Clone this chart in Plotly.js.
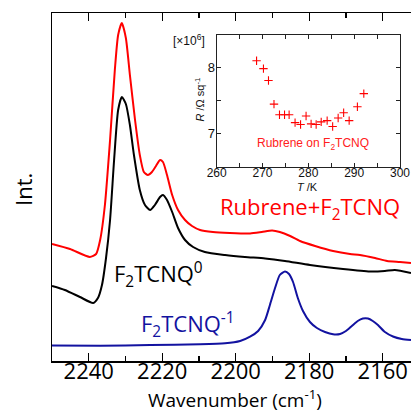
<!DOCTYPE html>
<html>
<head>
<meta charset="utf-8">
<script src="https://cdn.plot.ly/plotly-3.0.1.min.js"></script>
<style>html,body{margin:0;padding:0;background:#fff;}#chart{width:411px;height:411px;}</style>
</head>
<body>
<div id="chart"></div>
<script>
// Main spectra (wavenumber in cm^-1, intensity in arbitrary units)
const redWn = [2250,2245.1,2239.7,2238.0,2236.9,2235.6,2234.2,2232.9,2232.0,2231.0,2229.9,2228.8,2227.4,2226.1,2225.0,2223.9,2222.8,2221.7,2220.6,2219.8,2218.7,2217.3,2215.7,2213.8,2211.9,2209.7,2206.2,2201.6,2196.1,2192.9,2190.1,2188.0,2185.2,2182.5,2178.4,2173.5,2168.9,2166.2,2162.1,2158.8,2155.3,2152.3];
const redInt = [117,112,104,107,121,156,221,291,326,338,323,286,241,206,189,186,189,195,201,199,186,166,151,141,135,131,129,128,127.5,129,130.5,129,125,120,115,110,107,106,103,100,99,98];

const blackWn = [2250,2246.5,2242.4,2238.8,2237.5,2236.4,2235.3,2234.2,2233.1,2232.0,2231.0,2229.9,2228.8,2227.7,2226.1,2224.7,2223.3,2222.0,2220.6,2219.8,2218.7,2217.3,2215.7,2213.8,2211.6,2208.4,2202.9,2197.5,2192.0,2186.6,2179.8,2170.8,2163.5,2159.4,2156.7,2152.3];
const blackInt = [75,71,64,58,63,76,103,141,201,251,264,257,236,206,171,156,151,156,164,166,161,149,133,121,114,109,106,104,102.5,100,96,92,89.5,90,91,88];

const blueWn = [2250,2236.9,2223.3,2209.7,2202.9,2198.8,2196.1,2193.9,2192.0,2190.7,2189.3,2188.0,2186.6,2185.5,2184.4,2183.1,2181.7,2179.8,2177.9,2175.7,2173.5,2171.6,2170.0,2168.4,2166.8,2165.4,2164.0,2162.7,2161.3,2159.4,2157.2,2154.8,2152.3];
const blueInt = [15.5,15.3,16,16.7,17.7,20,24.3,30,41,56,73,86,89.5,87,79,63,50,39,33,29,26.7,27,30,35,40,42.5,42.5,40,36,29,24.5,22,21];

// Inset: sheet resistance vs temperature
const tempK = [268.7,270.2,271.3,272.5,273.7,274.8,275.8,277.1,278.3,279.5,280.6,281.7,282.8,284.1,285.3,286.5,287.7,288.9,290.7,292.1];
const resist = [8.11,7.99,7.81,7.45,7.29,7.29,7.29,7.17,7.14,7.27,7.15,7.14,7.18,7.20,7.11,7.24,7.32,7.20,7.41,7.61];

const xTicks = [2240,2220,2200,2180,2160];
const insetXTicks = [260,270,280,290,300];
const insetYTicks = [7,8];

const mainFont = 'Open Sans, sans-serif';
const insetFont = 'Liberation Sans, Arial, sans-serif';
const blueCol = '#1212a0';

const traces = [
  {x: redWn, y: redInt, mode:'lines', line:{color:'#ff0000', width:2, shape:'spline', smoothing:0.6}, xaxis:'x', yaxis:'y', hoverinfo:'none'},
  {x: blackWn, y: blackInt, mode:'lines', line:{color:'#000000', width:2, shape:'spline', smoothing:0.6}, xaxis:'x', yaxis:'y', hoverinfo:'none'},
  {x: blueWn, y: blueInt, mode:'lines', line:{color:blueCol, width:2, shape:'spline', smoothing:0.6}, xaxis:'x', yaxis:'y', hoverinfo:'none'},
  {x: tempK, y: resist, mode:'markers', marker:{symbol:'cross-thin', size:6, color:'#ff0000', line:{color:'#ff0000', width:1.1}}, xaxis:'x2', yaxis:'y2', hoverinfo:'none'}
];

const layout = {
  width:411, height:411,
  margin:{l:52, r:0, t:13, b:50},
  paper_bgcolor:'#fff', plot_bgcolor:'rgba(0,0,0,0)',
  showlegend:false,
  xaxis:{
    range:[2250,2152.3], domain:[0,1],
    tickvals:xTicks, ticktext:xTicks.map(String),
    ticks:'inside', ticklen:8, tickwidth:1.3, tickcolor:'#000',
    minor:{ticks:'inside', ticklen:5, dtick:10, tick0:2150, tickwidth:1.3, tickcolor:'#000', showgrid:false},
    showline:true, linecolor:'#000', linewidth:1.5, mirror:'ticks',
    showgrid:false, zeroline:false, ticklabelstandoff:-10,
    tickfont:{family:mainFont, size:22, color:'#000'}
  },
  yaxis:{
    range:[0,348], domain:[0,1],
    showline:true, linecolor:'#000', linewidth:1.5,
    ticks:'', showticklabels:false, showgrid:false, zeroline:false
  },
  xaxis2:{
    anchor:'y2', domain:[0.4588,0.9694], range:[260,300],
    tickvals:insetXTicks, ticktext:insetXTicks.map(String),
    ticks:'inside', ticklen:4, tickwidth:1, tickcolor:'#222',
    minor:{ticks:'inside', ticklen:4, dtick:5, tick0:260, tickwidth:1, tickcolor:'#222', showgrid:false},
    showline:true, linecolor:'#222', linewidth:1.2, mirror:'ticks',
    showgrid:false, zeroline:false, ticklabelstandoff:-5,
    tickfont:{family:insetFont, size:12, color:'#111'}
  },
  yaxis2:{
    anchor:'x2', domain:[0.5583,0.9368], range:[6.5,8.5],
    tickvals:insetYTicks, ticktext:insetYTicks.map(String),
    ticks:'inside', ticklen:4, tickwidth:1, tickcolor:'#222',
    minor:{ticks:'inside', ticklen:4, dtick:0.5, tick0:6.5, tickwidth:1, tickcolor:'#222', showgrid:false},
    showline:true, linecolor:'#222', linewidth:1.2, mirror:'ticks',
    showgrid:false, zeroline:false, ticklabelstandoff:-2,
    tickfont:{family:insetFont, size:13, color:'#111'}
  },
  annotations:[
    {text:'Wavenumber (cm<sup>-1</sup>)', xref:'paper', yref:'paper', x:0.5097, y:-0.11, xanchor:'center', yanchor:'middle', showarrow:false, font:{family:mainFont, size:19, color:'#000'}},
    {text:'Int.', xref:'paper', yref:'paper', x:-0.081, y:0.494, xanchor:'center', yanchor:'middle', textangle:-90, showarrow:false, font:{family:mainFont, size:22, color:'#000'}},
    {text:'Rubrene+F<sub>2</sub>TCNQ', xref:'paper', yref:'paper', x:0.4624, y:0.44, xanchor:'left', yanchor:'middle', showarrow:false, font:{family:mainFont, size:22, color:'#ff0000'}},
    {text:'F<sub>2</sub>TCNQ<sup>0</sup>', xref:'paper', yref:'paper', x:0.168, y:0.25, xanchor:'left', yanchor:'middle', showarrow:false, font:{family:mainFont, size:22, color:'#000'}},
    {text:'F<sub>2</sub>TCNQ<sup>-1</sup>', xref:'paper', yref:'paper', x:0.243, y:0.106, xanchor:'left', yanchor:'middle', showarrow:false, font:{family:mainFont, size:22, color:blueCol}},
    {text:'[×10<sup>6</sup>]', xref:'paper', yref:'paper', x:0.3816, y:0.9224, xanchor:'center', yanchor:'middle', showarrow:false, font:{family:insetFont, size:12, color:'#111'}},
    {text:'<i>R</i> /Ω sq<sup>-1</sup>', xref:'paper', yref:'paper', x:0.4109, y:0.75, xanchor:'center', yanchor:'middle', textangle:-90, showarrow:false, font:{family:insetFont, size:11, color:'#111'}},
    {text:'<i>T</i> /K', xref:'paper', yref:'paper', x:0.713, y:0.499, xanchor:'center', yanchor:'middle', showarrow:false, font:{family:insetFont, size:11, color:'#111'}},
    {text:'Rubrene on F<sub>2</sub>TCNQ', xref:'paper', yref:'paper', x:0.727, y:0.6236, xanchor:'center', yanchor:'middle', showarrow:false, font:{family:insetFont, size:12, color:'#ff2020'}}
  ]
};

Plotly.newPlot('chart', traces, layout, {staticPlot:true, displayModeBar:false});
</script>
</body>
</html>
